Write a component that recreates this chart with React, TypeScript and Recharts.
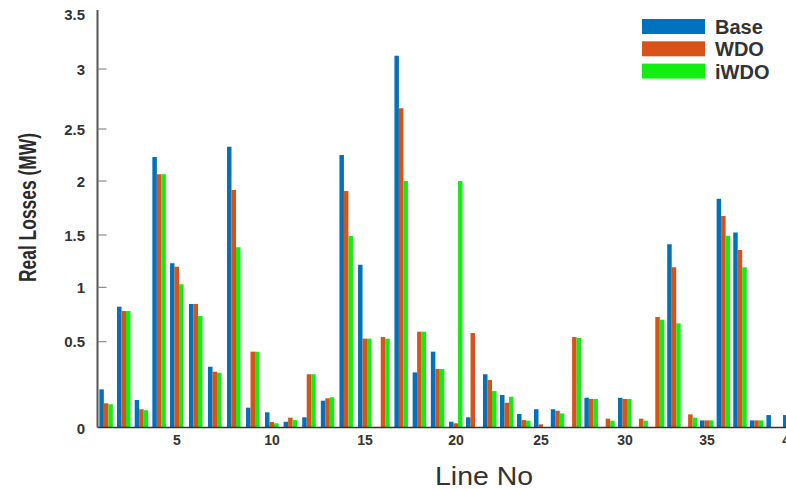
import { BarChart, Bar, XAxis, YAxis, Legend } from "recharts"

// line numbers on the x axis
const lines = [
  1, 2, 3, 4, 5, 6, 7, 8, 9, 10, 11, 12, 13, 14, 15, 16, 17, 18, 19, 20,
  21, 22, 23, 24, 25, 26, 27, 28, 29, 30, 31, 32, 33, 34, 35, 36, 37, 38, 39, 40,
]

const base = [
  0.222, 0.822, 0.16, 2.23, 1.229, 0.847, 0.354, 2.33, 0.115, 0.088,
  0.033, 0.059, 0.156, 2.25, 1.216, 0, 3.121, 0.321, 0.442, 0.033,
  0.059, 0.31, 0.189, 0.078, 0.106, 0.106, 0, 0.173, 0, 0.173,
  0, 0, 1.411, 0, 0.041, 1.836, 1.523, 0.041, 0.072, 0.072,
]
const wdo = [
  0.141, 0.782, 0.106, 2.064, 1.197, 0.847, 0.325, 1.917, 0.442, 0.032,
  0.057, 0.31, 0.17, 1.907, 0.528, 0.543, 2.672, 0.592, 0.341, 0.024,
  0.58, 0.277, 0.144, 0.043, 0.018, 0.097, 0.543, 0.166, 0.051, 0.166,
  0.051, 0.727, 1.191, 0.076, 0.041, 1.676, 1.357, 0.041, 0, 0,
]
const iwdo = [
  0.135, 0.782, 0.1, 2.064, 1.029, 0.736, 0.319, 1.382, 0.442, 0.024,
  0.043, 0.31, 0.176, 1.49, 0.528, 0.528, 2.0, 0.592, 0.341, 2.0,
  0, 0.212, 0.179, 0.039, 0, 0.082, 0.534, 0.166, 0.039, 0.166,
  0.039, 0.702, 0.669, 0.057, 0.041, 1.494, 1.191, 0.041, 0, 0,
]

const yTicks = [0, 0.5, 1, 1.5, 2, 2.5, 3, 3.5]
const xTicks = [5, 10, 15, 20, 25, 30, 35, 40]

const series = [
  { key: "base", name: "Base", color: "#0072BD" },
  { key: "wdo", name: "WDO", color: "#D95319" },
  { key: "iwdo", name: "iWDO", color: "#12EE12" },
]

const data = lines.map((line, i) => ({ line, base: base[i], wdo: wdo[i], iwdo: iwdo[i] }))

// the figure's axes are not evenly spaced, so both axes use a piecewise
// linear scale calibrated on the tick positions (fraction of the axis range)
const Y_TOP = 3.536
const yStops = [0, 0.5, 1, 1.5, 2, 2.5, 3, 3.5, Y_TOP]
const yFracs = [0, 0.2053, 0.3356, 0.4609, 0.5903, 0.7149, 0.8586, 0.9904, 1]
const xStops = [0.5, 5, 10, 15, 20, 25, 30, 35, 40, 40.5]
const xFracs = [0, 0.1135, 0.2491, 0.3819, 0.5118, 0.6331, 0.753, 0.8701, 0.9886, 1]

function warpScale(stops: number[], fracs: number[], banded = false): any {
  let dom: any[] = [stops[0], stops[stops.length - 1]]
  let rng: number[] = [0, 1]
  const span = () => rng[rng.length - 1] - rng[0]
  const toFrac = (v: number) => {
    let i = 1
    while (i < stops.length - 1 && v > stops[i]) i++
    const t = (v - stops[i - 1]) / (stops[i] - stops[i - 1])
    return fracs[i - 1] + t * (fracs[i] - fracs[i - 1])
  }
  const bandwidth = () => {
    let m = Infinity
    for (let i = 1; i < stops.length; i++) {
      m = Math.min(m, (fracs[i] - fracs[i - 1]) / (stops[i] - stops[i - 1]))
    }
    return m * Math.abs(span())
  }
  const scale: any = (v: any) => {
    if (v === null || v === undefined) return undefined
    const n = Number(v)
    if (Number.isNaN(n)) return undefined
    const px = rng[0] + toFrac(n) * span()
    return banded ? px - bandwidth() / 2 : px
  }
  scale.domain = (d?: any[]) => {
    if (d === undefined) return dom.slice()
    dom = d.slice()
    return scale
  }
  scale.range = (r?: number[]) => {
    if (r === undefined) return rng.slice()
    rng = r.slice()
    return scale
  }
  scale.copy = () => warpScale(stops, fracs, banded).domain(dom).range(rng)
  scale.ticks = () => stops.slice()
  scale.tickFormat = () => (v: any) => String(v)
  scale.nice = () => scale
  scale.clamp = () => scale
  scale.unknown = () => scale
  scale.invert = (px: number) => {
    const f = (px - rng[0]) / span()
    let i = 1
    while (i < fracs.length - 1 && f > fracs[i]) i++
    const t = (f - fracs[i - 1]) / (fracs[i] - fracs[i - 1])
    return stops[i - 1] + t * (stops[i] - stops[i - 1])
  }
  if (banded) {
    scale.bandwidth = bandwidth
    scale.step = bandwidth
  }
  return scale
}

const yScale = warpScale(yStops, yFracs)
const xScale = warpScale(xStops, xFracs, true)

const FONT = "'Liberation Sans', Arial, Helvetica, sans-serif"
const AXIS_W = 97.5

const YTick = (props: any) => {
  const { x, y, payload } = props
  const v = payload.value
  return (
    <g>
      {v > 0 && v < 3.5 && <line x1={x} x2={x + 9} y1={y} y2={y} stroke="#777" strokeWidth={1} />}
      <text x={x - 12.5} y={v === 0 ? y + 1 : y} textAnchor="end" dominantBaseline="central"
        fontFamily={FONT} fontSize={15} fontWeight="bold" fill="#333">
        {v}
      </text>
    </g>
  )
}

const XTick = (props: any) => {
  const { x, y, payload } = props
  return (
    <text x={x} y={y + 13} textAnchor="middle" dominantBaseline="central"
      fontFamily={FONT} fontSize={14} fontWeight="bold" fill="#333">
      {payload.value}
    </text>
  )
}

const yLabel = () => (
  <text x={27.5} y={207.5} transform="rotate(-90 27.5 207.5)" textAnchor="middle" dominantBaseline="central"
    fontFamily="'Liberation Sans Narrow', 'Liberation Sans', Arial, sans-serif" fontSize={24} fontWeight="bold"
    fill="#2b2b2b" textLength={149} lengthAdjust="spacingAndGlyphs">
    Real Losses (MW)
  </text>
)

const xLabel = () => (
  <text x={484} y={485} textAnchor="middle" fontFamily={FONT} fontSize={25} fill="#333"
    textLength={98} lengthAdjust="spacingAndGlyphs">
    Line No
  </text>
)

const renderLegend = () => (
  <svg width={150} height={66}>
    {series.map((s, i) => (
      <g key={s.key} transform={`translate(0, ${i * 22.3})`}>
        <rect x={2} y={2} width={63} height={15} fill={s.color} />
        <text x={75} y={17} fontFamily={FONT} fontSize={20} fontWeight="bold" fill="#333">
          {s.name}
        </text>
      </g>
    ))}
  </svg>
)

export default function App() {
  return (
    <div style={{ position: "absolute", left: 0, top: 0, width: 786, height: 489, overflow: "hidden", background: "#fff" }}>
      <BarChart width={800} height={489} data={data} margin={{ top: 10, right: 2, left: 0, bottom: 0 }}
        barGap={0} barSize={4.5}>
        <XAxis dataKey="line" type="category" scale={xScale} ticks={xTicks} interval={0}
          height={61.6} tickSize={0} tickMargin={0} tickLine={false} tick={<XTick />}
          axisLine={{ stroke: "#333", strokeWidth: 1.5 }} label={xLabel} />
        <XAxis xAxisId="top" dataKey="line" orientation="top" height={0} tick={false} tickLine={false}
          axisLine={{ stroke: "#555", strokeWidth: 2 }} />
        <YAxis type="number" scale={yScale} domain={[0, Y_TOP]} ticks={yTicks} interval={0}
          width={AXIS_W} tickSize={0} tickMargin={0} tickLine={false} tick={<YTick />}
          axisLine={{ stroke: "#555", strokeWidth: 2 }} label={yLabel} />
        <Legend layout="vertical" align="center" verticalAlign="middle" content={renderLegend}
          wrapperStyle={{ left: 640, top: 17, width: 150, height: 66 }} />
        {series.map((s) => (
          <Bar key={s.key} dataKey={s.key} name={s.name} fill={s.color} isAnimationActive={false} />
        ))}
      </BarChart>
    </div>
  )
}
